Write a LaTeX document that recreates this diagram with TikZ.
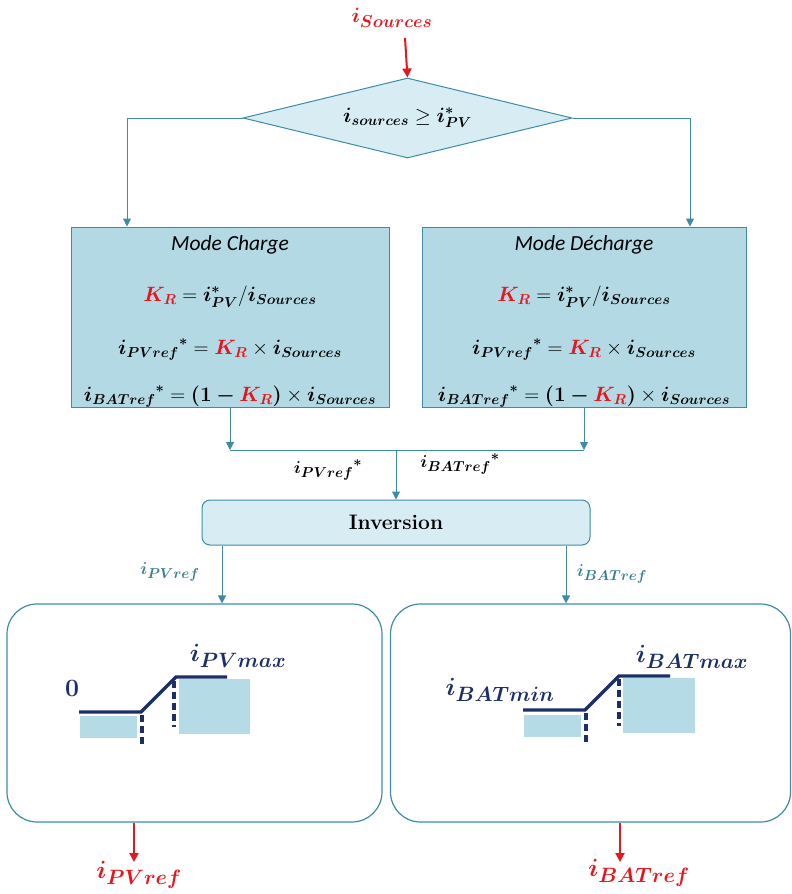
\documentclass[tikz,border=0pt]{standalone}
\usepackage{amsmath,amssymb}
\usepackage{bm}
\usepackage{fontspec}
\newfontfamily\carlito{Carlito}
\usetikzlibrary{shapes.geometric,arrows.meta,calc}
\DeclareMathSizes{19}{19}{15}{12}
\DeclareMathSizes{20}{20}{15.6}{12}
\DeclareMathSizes{22}{22}{17}{13}
\DeclareMathSizes{26}{26}{20}{15}
\DeclareMathSizes{28}{28}{21.5}{16}
\definecolor{teal1}{HTML}{3D8CA5}
\definecolor{boxfill}{HTML}{B2D9E4}
\definecolor{lightfill}{HTML}{D8EDF3}
\definecolor{navy}{HTML}{1C2F66}
\definecolor{rectfill}{HTML}{B5DBE6}
\definecolor{myred}{HTML}{E8161C}
\definecolor{labteal}{HTML}{3A7F93}
\newcommand{\bmi}[1]{\bm{#1}}
\newcommand{\KR}{{\color{myred}\bmi{K}_{\bmi{R}}}}
\begin{document}
\begin{tikzpicture}[x=1pt,y=-1pt,
  arr/.style={draw=teal1,line width=1pt,-{Triangle[width=8pt,length=8pt]}},
  ln/.style={draw=teal1,line width=1pt},
  redarr/.style={draw=myred,line width=2pt,-{Triangle[width=9pt,length=9pt]}},
  mainbox/.style={draw=teal1,line width=1pt,fill=boxfill,minimum height=180pt,inner sep=0pt},
  outbox/.style={draw=teal1,line width=1.2pt,rounded corners=30pt,minimum height=218pt,inner sep=0pt},
  fs/.style={font=\fontsize{20}{24}\selectfont},
  curve/.style={draw=navy,line width=3.4pt},
  dashln/.style={draw=navy,line width=3.4pt,dash pattern=on 7pt off 4pt},
  gl/.style={font=\fontsize{26}{30}\selectfont,text=navy}
]
\useasboundingbox (0,0) rectangle (792,894);

% top input
\node[text=myred,font=\fontsize{22}{24}\selectfont] (src) at (392,18) {$\bmi{i}_{\bmi{Sources}}$};
\coordinate (srcarr) at (405,38);
\node[diamond,draw=teal1,line width=1pt,fill=lightfill,minimum width=329pt,minimum height=80pt,inner sep=1pt,aspect=4] (dia) at (407.5,118)
  {\fontsize{20}{22}\selectfont $\bmi{i}_{\bmi{sources}}\geq\bmi{i}^{\bmi{*}}_{\bmi{PV}}$};
\draw[redarr] (srcarr) -- (dia.north);

% mode boxes
\node[mainbox,minimum width=318pt] (lbox) at (230,317) {};
\node[mainbox,minimum width=324pt] (rbox) at (584,317) {};

\draw[arr] (dia.west) -| ([xshift=-103pt]lbox.north);
\draw[arr] (dia.east) -| ([xshift=106pt]rbox.north);

\foreach \b/\t in {lbox/{Mode Charge},rbox/{Mode Décharge}}{
  \node[font=\carlito\itshape\fontsize{21.5}{24}\selectfont] (\b t) at ([yshift=-18pt]\b.north) {\t};
  \node[fs] (\b a) at ([yshift=-70pt]\b.north) {$\KR=\bmi{i}^{\bmi{*}}_{\bmi{PV}}/\bmi{i}_{\bmi{Sources}}$};
  \node[fs] (\b b) at ([yshift=-123pt]\b.north) {${\bmi{i}_{\bmi{PVref}}}^{\bmi{*}}=\KR\times\bmi{i}_{\bmi{Sources}}$};
  \node[fs] (\b c) at ([yshift=-170pt]\b.north) {${\bmi{i}_{\bmi{BATref}}}^{\bmi{*}}=\bm{(1-}\KR\bm{)}\times\bmi{i}_{\bmi{Sources}}$};
}

% junction
\coordinate (jl) at (230,450);
\coordinate (jr) at (584,450);
\coordinate (jm) at (396,450);
\draw[arr] (lbox.south) -- (jl);
\draw[arr] (rbox.south) -- (jr);
\draw[ln] (jl) -- (jr);
\node[draw=teal1,line width=1pt,fill=lightfill,rounded corners=8pt,minimum width=388pt,minimum height=45pt,font=\bfseries\fontsize{21}{24}\selectfont] (inv) at (396,522.5) {Inversion};
\draw[arr] (jm) -- (inv.north);
\node[font=\fontsize{19}{22}\selectfont] (lpv) at (328,470) {${\bmi{i}_{\bmi{PVref}}}^{\bmi{*}}$};
\node[font=\fontsize{19}{22}\selectfont] (lbat) at (460,464) {${\bmi{i}_{\bmi{BATref}}}^{\bmi{*}}$};

% bottom boxes
\node[outbox,minimum width=375pt] (bl) at (194.5,713) {};
\node[outbox,minimum width=400pt] (br) at (590.5,713) {};
\coordinate (xl) at (222,0);
\coordinate (xr) at (566,0);
\draw[arr] (inv.south -| xl) -- (bl.north -| xl);
\draw[arr] (inv.south -| xr) -- (br.north -| xr);
\node[font=\fontsize{19}{22}\selectfont,text=labteal] (tpv) at (170,572) {$\bmi{i}_{\bmi{PVref}}$};
\node[font=\fontsize{19}{22}\selectfont,text=labteal] (tbat) at (612,574) {$\bmi{i}_{\bmi{BATref}}$};

% left graph
\fill[rectfill] (80,716) rectangle (137,738);
\fill[rectfill] (179,679) rectangle (250,734);
\draw[curve] (79,712) -- (141,712) -- (176,677) -- (227,677);
\draw[dashln] (142,715) -- (142,745);
\draw[dashln] (174,681) -- (174,727);
\node[gl] (zero) at (72,688) {$\bm{0}$};
\node[gl] (pvmax) at (238,656) {$\bmi{i}_{\bmi{PVmax}}$};

% right graph
\fill[rectfill] (524,715) rectangle (581,737);
\fill[rectfill] (623,678) rectangle (695,733);
\draw[curve] (523,710) -- (585,710) -- (619,676) -- (670,676);
\draw[dashln] (586,713) -- (586,743);
\draw[dashln] (619,679) -- (619,726);
\node[gl] (batmin) at (500,690) {$\bmi{i}_{\bmi{BATmin}}$};
\node[gl] (batmax) at (692,657) {$\bmi{i}_{\bmi{BATmax}}$};

% outputs
\coordinate (ol) at (134,862);
\coordinate (or) at (620,862);
\draw[redarr] (bl.south -| ol) -- (ol);
\draw[redarr] (br.south -| or) -- (or);
\node[text=myred,font=\fontsize{28}{32}\selectfont] (opv) at (139,875) {$\bmi{i}_{\bmi{PVref}}$};
\node[text=myred,font=\fontsize{28}{32}\selectfont] (obat) at (639,873) {$\bmi{i}_{\bmi{BATref}}$};
\end{tikzpicture}
\end{document}
